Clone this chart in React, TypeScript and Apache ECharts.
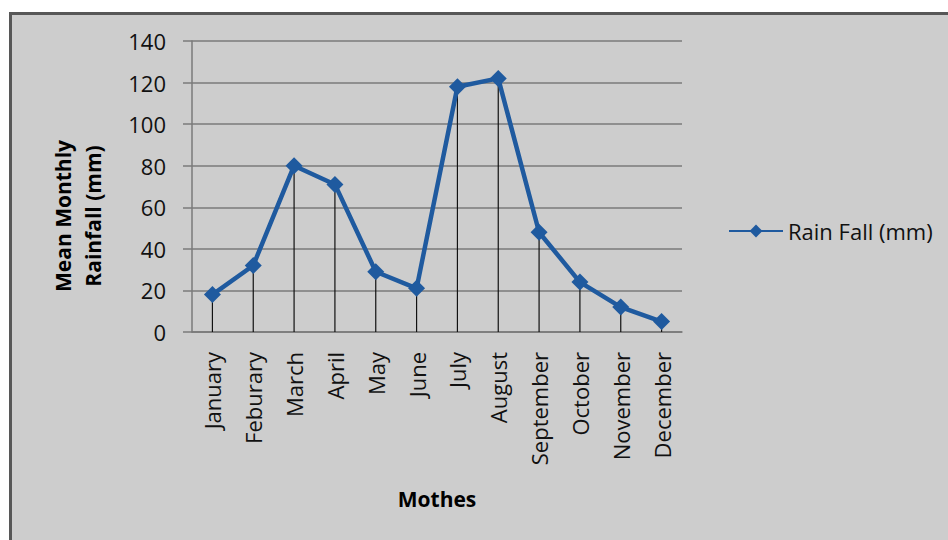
import React, { useEffect, useRef } from "react";
import * as echarts from "echarts";

const months = ["January", "Feburary", "March", "April", "May", "June", "July", "August", "September", "October", "November", "December"];
const rainfall = [18, 32, 80, 71, 29, 21, 118, 122, 48, 24, 12, 5];
const seriesName = "Rain Fall (mm)";
const yTitle = "Mean Monthly\nRainfall (mm)";
const xTitle = "Mothes";

const FONT = "'Open Sans', 'Noto Sans', sans-serif";

export default function App() {
  const ref = useRef<HTMLDivElement>(null);
  useEffect(() => {
    document.body.style.margin = "0";
    const chart = echarts.init(ref.current!, null, { renderer: "svg" });
    chart.setOption({
      animation: false,
      backgroundColor: "#ffffff",
      graphic: [
        {
          type: "rect",
          z: -10,
          silent: true,
          shape: { x: 10.5, y: 13.5, width: 1000, height: 600 },
          style: { fill: "#cdcdcd", stroke: "#575757", lineWidth: 3 },
        },
        {
          type: "text",
          x: 78,
          y: 216,
          rotation: Math.PI / 2,
          style: {
            text: yTitle,
            font: `bold 21px ${FONT}`,
            fill: "#000",
            align: "center",
            verticalAlign: "middle",
            lineHeight: 30,
          },
        },
        {
          type: "text",
          x: 437,
          y: 499,
          style: {
            text: xTitle,
            font: `bold 21px ${FONT}`,
            fill: "#000",
            align: "center",
            verticalAlign: "middle",
          },
        },
      ],
      grid: { left: 192, top: 41, width: 490, height: 291, containLabel: false },
      legend: {
        data: [seriesName],
        left: 728,
        top: 220,
        padding: 0,
        itemWidth: 54,
        itemHeight: 16,
        itemGap: 4,
        textStyle: { fontFamily: FONT, fontSize: 22, color: "#111" },
      },
      xAxis: {
        type: "category",
        data: months,
        boundaryGap: true,
        axisLine: { show: true, lineStyle: { color: "#7a7a7a", width: 1.5 } },
        axisTick: { show: false },
        splitLine: { show: false },
        axisLabel: {
          rotate: 90,
          margin: 20,
          interval: 0,
          fontFamily: FONT,
          fontSize: 22,
          color: "#111",
        },
      },
      yAxis: {
        type: "value",
        min: 0,
        max: 140,
        interval: 20,
        axisLine: { show: true, lineStyle: { color: "#7a7a7a", width: 1.5 } },
        axisTick: { show: true, length: 9, lineStyle: { color: "#7a7a7a", width: 1.5 } },
        splitLine: { show: true, lineStyle: { color: "#7a7a7a", width: 1.5 } },
        axisLabel: { margin: 26, fontFamily: FONT, fontSize: 22, color: "#111" },
      },
      series: [
        {
          name: "drop",
          type: "bar",
          data: rainfall,
          barWidth: 1.2,
          itemStyle: { color: "#111" },
          silent: true,
          z: 1,
        },
        {
          name: seriesName,
          type: "line",
          data: rainfall,
          symbol: "diamond",
          symbolSize: 17,
          lineStyle: { color: "#1f5a9f", width: 4.5 },
          itemStyle: { color: "#1f5a9f" },
          z: 3,
        },
      ],
    });
    return () => chart.dispose();
  }, []);
  return <div ref={ref} style={{ width: 948, height: 540 }} />;
}
